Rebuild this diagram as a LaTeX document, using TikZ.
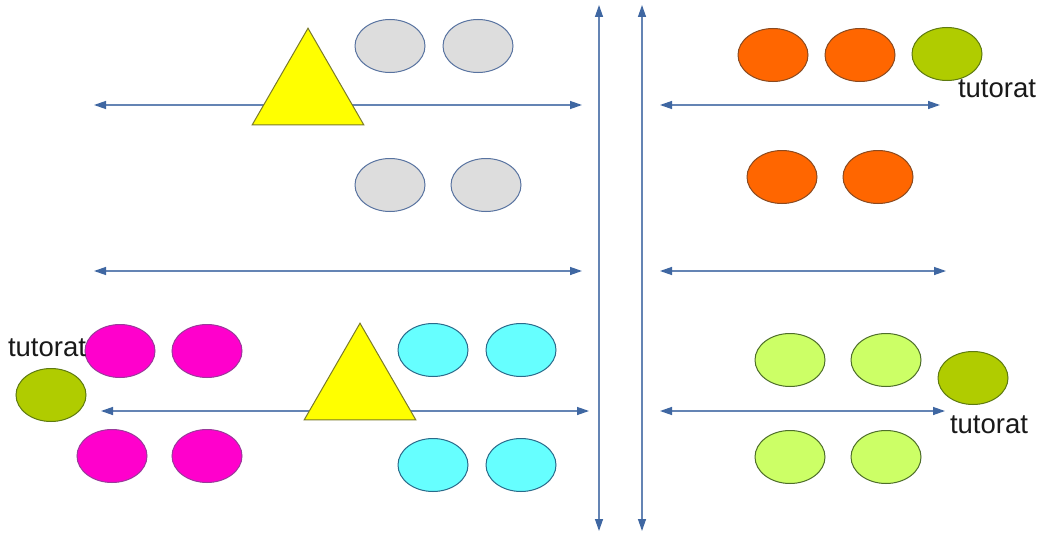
\documentclass[tikz,border=0pt]{standalone}
\usepackage{fontspec}
\setmainfont{Liberation Sans}
\usetikzlibrary{arrows.meta,shapes.geometric}
\definecolor{linec}{HTML}{6484B4}
\definecolor{tipc}{HTML}{3F67A2}
\definecolor{greyf}{HTML}{DDDDDD}
\definecolor{greyd}{HTML}{5873A0}
\definecolor{orf}{HTML}{FF6600}
\definecolor{ord}{HTML}{8A4A20}
\definecolor{tutf}{HTML}{B0CC00}
\definecolor{tutd}{HTML}{5E7A10}
\definecolor{magf}{HTML}{FF00CC}
\definecolor{magd}{HTML}{9A3A9A}
\definecolor{cyf}{HTML}{66FFFF}
\definecolor{cyd}{HTML}{2A6A8A}
\definecolor{lgf}{HTML}{CCFF66}
\definecolor{lgd}{HTML}{4E6E2A}
\definecolor{yelf}{HTML}{FFFF00}
\definecolor{yeld}{HTML}{7A7A2A}
\tikzset{
  axis/.style={draw=linec, line width=1.3pt, {Triangle[length=12pt,width=8pt,color=tipc]}-{Triangle[length=12pt,width=8pt,color=tipc]}},
  oval/.style={ellipse, minimum width=70pt, minimum height=53pt, inner sep=0pt, line width=1pt},
  grey/.style={oval, fill=greyf, draw=greyd},
  orng/.style={oval, fill=orf, draw=ord},
  tut/.style={oval, fill=tutf, draw=tutd},
  mag/.style={oval, fill=magf, draw=magd},
  cyan/.style={oval, fill=cyf, draw=cyd},
  lgreen/.style={oval, fill=lgf, draw=lgd},
  tri/.style={regular polygon, regular polygon sides=3, minimum size=129pt, inner sep=0pt, fill=yelf, draw=yeld, line width=1pt},
  lbl/.style={font=\fontsize{27.5}{31}\selectfont, text=black!90, inner sep=0pt}
}
\begin{document}
\begin{tikzpicture}[x=1pt,y=-1pt]
\useasboundingbox[fill=white] (0,0) rectangle (1041,535);
% axes
\coordinate (v1t) at (599,5); \coordinate (v1b) at (599,531);
\coordinate (v2t) at (642,5); \coordinate (v2b) at (642,531);
\draw[axis] (v1t) -- (v1b);
\draw[axis] (v2t) -- (v2b);
\coordinate (h1l) at (94,105); \coordinate (h1r) at (582,105);
\coordinate (h2l) at (660,105); \coordinate (h2r) at (940,105);
\coordinate (h3l) at (94,271); \coordinate (h3r) at (582,271);
\coordinate (h4l) at (660,271); \coordinate (h4r) at (946,271);
\coordinate (h5l) at (101,411); \coordinate (h5r) at (589,411);
\coordinate (h6l) at (660,411); \coordinate (h6r) at (945,411);
\draw[axis] (h1l) -- (h1r);
\draw[axis] (h2l) -- (h2r);
\draw[axis] (h3l) -- (h3r);
\draw[axis] (h4l) -- (h4r);
\draw[axis] (h5l) -- (h5r);
\draw[axis] (h6l) -- (h6r);
% triangles
\node[tri] (t1) at (308,92.7) {};
\node[tri] (t2) at (360,387.7) {};
% grey
\node[grey] (g1) at (390,46) {};
\node[grey] (g2) at (478,46) {};
\node[grey] (g3) at (390,185) {};
\node[grey] (g4) at (486,185) {};
% orange
\node[orng] (o1) at (773,55) {};
\node[orng] (o2) at (860,55) {};
\node[tut] (tu1) at (947,54) {};
\node[orng] (o3) at (782,177) {};
\node[orng] (o4) at (878,177) {};
% magenta
\node[mag] (m1) at (120,351) {};
\node[mag] (m2) at (207,351) {};
\node[mag] (m3) at (112,456) {};
\node[mag] (m4) at (207,456) {};
\node[tut] (tu2) at (51,395) {};
% cyan
\node[cyan] (c1) at (433,350) {};
\node[cyan] (c2) at (521,350) {};
\node[cyan] (c3) at (433,465) {};
\node[cyan] (c4) at (521,465) {};
% light green
\node[lgreen] (l1) at (790,360) {};
\node[lgreen] (l2) at (886,360) {};
\node[lgreen] (l3) at (790,457) {};
\node[lgreen] (l4) at (886,457) {};
\node[tut] (tu3) at (973,378) {};
% labels
\node[lbl] (lb1) at (997,89) {tutorat};
\node[lbl] (lb2) at (47,348) {tutorat};
\node[lbl] (lb3) at (989,425) {tutorat};
\end{tikzpicture}
\end{document}
